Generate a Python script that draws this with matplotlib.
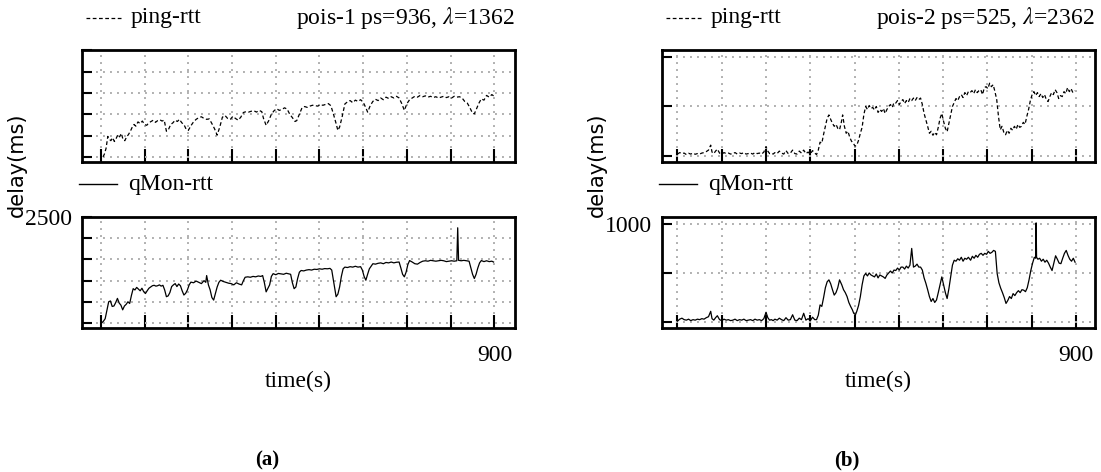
import matplotlib
matplotlib.use('Agg')
import matplotlib.pyplot as plt
from matplotlib.lines import Line2D

plt.rcParams['font.family'] = ['Liberation Serif', 'DejaVu Serif']
plt.rcParams['mathtext.fontset'] = 'stix'

# ---- data (time in s, delay in ms) ----
# (a) pois-1, ping-rtt
p1_t = [5, 8, 12, 16, 19, 23, 27, 31, 35, 39, 43, 47, 51, 55, 59, 63, 68, 72, 76, 80,
        85, 90, 95, 100, 105, 110, 115, 120, 125, 130, 135, 140, 145, 150, 155, 160, 165, 170, 175, 180,
        185, 190, 195, 200, 206, 212, 218, 224, 230, 236, 242, 248, 254, 260, 266, 272, 278, 284, 290, 296,
        302, 308, 314, 320, 326, 332, 338, 344, 350, 356, 362, 368, 372, 378, 384, 390, 396, 402, 408, 414,
        420, 426, 432, 438, 444, 448, 454, 460, 466, 472, 478, 484, 490, 496, 502, 508, 514, 520, 526, 532,
        538, 542, 546, 552, 558, 564, 570, 576, 582, 588, 594, 600, 606, 610, 616, 622, 628, 634, 640, 646,
        652, 658, 664, 670, 676, 682, 688, 694, 700, 706, 712, 718, 724, 730, 736, 742, 748, 754, 760, 766,
        772, 778, 784, 790, 796, 802, 808, 814, 820, 826, 832, 838, 844, 850, 854, 858, 864, 870, 876, 882,
        888, 894, 898]
p1_v = [0, 60, 200, 480, 420, 380, 450, 360, 430, 520, 470, 550, 400, 380, 470, 520, 610, 700, 760, 720,
        820, 780, 840, 760, 740, 800, 830, 860, 810, 850, 870, 840, 860, 600, 650, 760, 800, 860, 830, 880,
        800, 760, 650, 620, 730, 820, 880, 920, 940, 900, 880, 890, 780, 660, 510, 700, 930, 970, 900, 880,
        950, 900, 860, 930, 1040, 1060, 1050, 1070, 1080, 1050, 1090, 1060, 900, 740, 850, 1000, 1080, 1130, 1090, 1110,
        1150, 1120, 1000, 920, 830, 850, 1000, 1150, 1180, 1160, 1190, 1210, 1200, 1190, 1220, 1210, 1230, 1250, 1200, 1000,
        780, 620, 700, 950, 1240, 1290, 1320, 1270, 1330, 1300, 1340, 1280, 1150, 1050, 1200, 1300, 1350, 1320, 1380, 1340,
        1400, 1370, 1410, 1380, 1420, 1380, 1250, 1090, 1250, 1340, 1380, 1420, 1400, 1440, 1410, 1430, 1400, 1420, 1390, 1410,
        1380, 1400, 1420, 1390, 1410, 1380, 1420, 1400, 1410, 1380, 1300, 1260, 1150, 1020, 1010, 1100, 1250, 1360, 1330, 1440,
        1400, 1460, 1430]

# (a) pois-1, qMon-rtt
q1_t = [2, 6, 10, 14, 18, 22, 26, 30, 34, 38, 42, 46, 50, 54, 58, 62, 66, 70, 74, 78,
        82, 86, 90, 94, 98, 102, 106, 110, 114, 118, 122, 126, 130, 134, 138, 142, 146, 150, 154, 158,
        162, 166, 170, 174, 178, 182, 186, 190, 194, 198, 202, 206, 212, 218, 224, 230, 236, 240, 242, 246,
        250, 254, 258, 262, 266, 270, 274, 280, 286, 292, 298, 304, 310, 316, 322, 326, 330, 336, 342, 348,
        354, 360, 366, 370, 374, 378, 382, 386, 390, 394, 400, 406, 412, 418, 424, 430, 434, 438, 442, 446,
        450, 454, 458, 464, 470, 476, 482, 488, 494, 500, 506, 512, 518, 524, 528, 532, 536, 538, 542, 546,
        550, 554, 558, 564, 570, 576, 582, 588, 594, 598, 602, 606, 610, 614, 618, 622, 628, 634, 640, 646,
        652, 658, 664, 670, 676, 682, 686, 690, 694, 698, 702, 706, 712, 718, 724, 730, 736, 742, 748, 754,
        760, 766, 772, 778, 784, 790, 796, 802, 808, 814, 816, 818, 824, 830, 836, 842, 846, 850, 854, 858,
        862, 866, 870, 876, 882, 888, 894, 898]
q1_v = [0, 40, 100, 300, 500, 520, 390, 400, 480, 580, 470, 420, 310, 400, 440, 500, 460, 650, 810, 780,
        840, 800, 760, 820, 740, 695, 760, 820, 850, 880, 890, 870, 880, 900, 870, 890, 780, 620, 640, 720,
        860, 900, 930, 860, 920, 880, 760, 660, 700, 780, 900, 965, 950, 990, 960, 930, 1000, 960, 1120, 900,
        780, 600, 540, 700, 850, 960, 1010, 980, 960, 940, 930, 900, 950, 920, 900, 1000, 1080, 1090, 1080, 1100,
        1090, 1110, 1100, 1120, 950, 735, 820, 900, 1100, 1165, 1140, 1170, 1160, 1150, 1175, 1160, 1150, 950, 810, 850,
        1050, 1200, 1240, 1230, 1250, 1260, 1250, 1270, 1265, 1280, 1270, 1285, 1280, 1290, 1250, 1000, 750, 620, 680, 850,
        1100, 1280, 1320, 1310, 1330, 1320, 1340, 1320, 1330, 1250, 1100, 1010, 1150, 1280, 1340, 1400, 1390, 1410, 1420, 1400,
        1430, 1420, 1440, 1420, 1435, 1440, 1300, 1150, 1090, 1200, 1380, 1475, 1440, 1400, 1390, 1430, 1460, 1470, 1460, 1480,
        1470, 1460, 1470, 1480, 1470, 1450, 1460, 1470, 1460, 1470, 2250, 1480, 1470, 1480, 1470, 1460, 1300, 1150, 1050, 1150,
        1300, 1420, 1475, 1450, 1470, 1450, 1460, 1440]

# (b) pois-2, ping-rtt
p2_t = [0, 5, 10, 15, 20, 25, 30, 35, 40, 45, 50, 55, 60, 65, 70, 75, 78, 82, 86, 90,
        95, 100, 105, 110, 115, 120, 125, 130, 135, 140, 145, 150, 155, 160, 165, 170, 175, 180, 185, 190,
        195, 200, 204, 208, 212, 216, 220, 225, 230, 235, 240, 245, 250, 255, 260, 265, 270, 275, 280, 285,
        290, 295, 300, 305, 310, 314, 318, 322, 326, 330, 334, 338, 342, 346, 350, 354, 358, 362, 366, 370,
        373, 377, 381, 385, 389, 393, 397, 401, 405, 409, 413, 417, 421, 425, 429, 433, 437, 441, 445, 449,
        453, 457, 461, 465, 469, 473, 477, 481, 485, 489, 493, 497, 501, 505, 509, 513, 517, 521, 525, 529,
        533, 537, 541, 545, 549, 553, 557, 561, 565, 569, 573, 577, 581, 585, 589, 593, 597, 601, 605, 609,
        613, 617, 621, 625, 629, 633, 637, 641, 645, 649, 653, 657, 661, 665, 669, 673, 677, 681, 685, 689,
        693, 697, 701, 705, 709, 713, 717, 721, 725, 729, 733, 737, 741, 745, 749, 753, 757, 761, 765, 769,
        773, 777, 781, 785, 789, 793, 797, 801, 805, 809, 813, 817, 821, 825, 829, 833, 837, 841, 845, 849,
        853, 857, 861, 865, 869, 873, 877, 881, 885, 889, 893, 897]
p2_v = [20, 35, 25, 30, 15, 28, 20, 30, 18, 25, 20, 30, 35, 45, 60, 110, 40, 25, 50, 70,
        30, 20, 35, 25, 30, 20, 25, 35, 20, 30, 25, 35, 20, 25, 30, 20, 35, 25, 30, 20,
        40, 95, 50, 25, 30, 20, 35, 25, 50, 30, 20, 55, 25, 30, 60, 25, 20, 50, 30, 60,
        25, 40, 20, 55, 30, 15, 60, 140, 130, 220, 300, 380, 415, 370, 330, 300, 320, 280, 265, 340,
        415, 300, 230, 250, 190, 150, 130, 100, 110, 160, 230, 290, 420, 500, 470, 510, 480, 490, 465, 500,
        440, 470, 450, 480, 430, 470, 500, 520, 490, 540, 535, 560, 520, 550, 570, 530, 560, 540, 580, 560,
        585, 560, 590, 570, 585, 520, 430, 365, 300, 230, 250, 210, 240, 215, 290, 380, 430, 350, 280, 245,
        330, 420, 500, 540, 580, 560, 600, 620, 590, 640, 610, 650, 640, 660, 630, 670, 640, 660, 670, 620,
        690, 700, 680, 735, 700, 720, 650, 570, 400, 265, 300, 240, 215, 260, 230, 280, 260, 300, 270, 320,
        290, 300, 340, 320, 400, 470, 560, 620, 650, 610, 640, 600, 630, 590, 620, 570, 550, 600, 640, 620,
        670, 640, 580, 610, 600, 650, 630, 690, 650, 680, 640, 660]

# (b) pois-2, qMon-rtt
q2_t = [0, 5, 10, 15, 20, 25, 30, 35, 40, 45, 50, 55, 60, 65, 70, 75, 78, 82, 86, 90,
        95, 100, 105, 110, 115, 120, 125, 130, 135, 140, 145, 150, 155, 160, 165, 170, 175, 180, 185, 190,
        195, 200, 204, 208, 212, 216, 220, 225, 230, 235, 240, 245, 250, 255, 260, 265, 270, 275, 280, 285,
        290, 295, 300, 305, 310, 314, 318, 322, 326, 330, 334, 338, 342, 346, 350, 354, 358, 362, 366, 371,
        375, 379, 383, 387, 391, 395, 398, 402, 405, 409, 413, 417, 421, 425, 429, 433, 437, 441, 445, 449,
        453, 457, 461, 465, 469, 473, 477, 481, 485, 489, 493, 497, 501, 505, 509, 513, 517, 521, 525, 529,
        533, 537, 541, 545, 549, 553, 557, 561, 565, 569, 573, 577, 581, 585, 589, 593, 597, 601, 605, 609,
        613, 617, 621, 625, 629, 633, 637, 641, 645, 649, 653, 657, 662, 666, 670, 674, 678, 682, 686, 690,
        694, 698, 702, 706, 710, 714, 718, 722, 726, 730, 734, 738, 742, 746, 750, 754, 758, 762, 766, 770,
        774, 778, 782, 786, 790, 794, 798, 802, 806, 809, 810, 811, 814, 818, 822, 826, 830, 834, 838, 842,
        846, 850, 854, 858, 862, 866, 870, 874, 878, 882, 886, 890, 894, 898]
q2_v = [10, 30, 40, 25, 20, 30, 15, 25, 20, 30, 25, 35, 30, 45, 55, 110, 35, 20, 45, 65,
        25, 15, 30, 20, 25, 15, 20, 30, 15, 25, 20, 30, 15, 20, 25, 15, 30, 20, 25, 15,
        35, 100, 45, 20, 25, 15, 30, 20, 40, 25, 15, 45, 20, 25, 75, 20, 15, 40, 25, 90,
        20, 35, 15, 50, 25, 25, 70, 175, 160, 250, 350, 410, 430, 390, 330, 275, 300, 350, 430, 380,
        330, 300, 260, 200, 160, 125, 90, 75, 110, 170, 260, 380, 470, 495, 470, 500, 480, 470, 460, 490,
        450, 480, 470, 460, 445, 480, 500, 520, 500, 530, 525, 550, 530, 560, 560, 540, 570, 550, 580, 750,
        560, 570, 590, 560, 560, 530, 450, 395, 330, 260, 210, 240, 200, 225, 300, 380, 460, 380, 300, 240,
        340, 460, 580, 630, 620, 645, 630, 660, 620, 650, 640, 660, 630, 670, 650, 680, 660, 690, 700, 680,
        700, 690, 720, 700, 710, 730, 720, 495, 400, 345, 300, 250, 190, 220, 260, 240, 290, 270, 300, 320,
        300, 330, 325, 310, 350, 430, 525, 600, 660, 650, 1010, 660, 640, 650, 620, 640, 610, 630, 600, 560,
        525, 600, 675, 640, 600, 595, 650, 700, 730, 680, 640, 620, 650, 610]

W, H = 1101, 472


def fx(px):
    return px / W


def fy(py):
    return 1 - py / H


def panel_axes(x0, x1, y0, y1):
    return fig.add_axes([fx(x0), fy(y1), fx(x1) - fx(x0), fy(y0) - fy(y1)])


def style(ax, xlim, ylim, yticks, top_label=None, show_900=False):
    ax.set_xlim(xlim)
    ax.set_ylim(ylim)
    ax.set_xticks(range(0, 901, 100))
    ax.set_yticks(yticks)
    ax.set_xticklabels(['900' if (t == 900 and show_900) else '' for t in range(0, 901, 100)])
    ax.set_yticklabels([top_label if (top_label and t == yticks[-1]) else '' for t in yticks])
    ax.grid(True, color='#b0b0b0', ls=(0, (1, 2.6)), lw=1.4)
    ax.tick_params(axis='x', direction='in', length=9.5, width=1.5, pad=12, labelsize=17, top=False)
    ax.tick_params(axis='y', direction='in', length=7.5, width=1.5, pad=7, labelsize=17, right=False)
    for s in ax.spines.values():
        s.set_linewidth(2.0)


fig = plt.figure(figsize=(W / 100, H / 100), dpi=100)

panels = [
    # x0, x1, xlim, ylim, yticks, top label, ping data, qmon data, title, caption, caption x
    (82, 515, (-43, 947), (-120, 2505), [0, 500, 1000, 1500, 2000, 2500], '2500',
     (p1_t, p1_v), (q1_t, q1_v), 'pois-1 ps=936, $\\lambda$=1362', '(a)', 267),
    (662, 1095, (-35, 943), (-60, 1070), [0, 500, 1000], '1000',
     (p2_t, p2_v), (q2_t, q2_v), 'pois-2 ps=525, $\\lambda$=2362', '(b)', 847),
]

for (x0, x1, xlim, ylim, yticks, toplab, ping, qmon, title, cap, capx) in panels:
    ax_top = panel_axes(x0, x1, 50, 162)
    ax_top.plot(ping[0], ping[1], color='k', lw=0.9, ls=(0, (3, 2)))
    style(ax_top, xlim, ylim, yticks)

    ax_bot = panel_axes(x0, x1, 217, 328)
    ax_bot.plot(qmon[0], qmon[1], color='k', lw=0.9)
    style(ax_bot, xlim, ylim, yticks, top_label=toplab, show_900=True)

    # keys
    fig.add_artist(Line2D([fx(x0 + 4), fx(x0 + 39)], [fy(18), fy(18)], color='k', lw=0.9,
                          ls=(0, (3, 2)), transform=fig.transFigure))
    fig.text(fx(x0 + 49), fy(18), 'ping-rtt', fontsize=17, ha='left', va='center')
    fig.text(fx(x1), fy(18), title, fontsize=17, ha='right', va='center')
    fig.add_artist(Line2D([fx(x0 - 3), fx(x0 + 35)], [fy(184), fy(184)], color='k', lw=1.0,
                          transform=fig.transFigure))
    fig.text(fx(x0 + 46), fy(184), 'qMon-rtt', fontsize=17, ha='left', va='center')

    fig.text(fx(x0 - 65), fy(165), 'delay(ms)', fontsize=15, rotation=90,
             ha='center', va='center', family=['DejaVu Sans'])
    fig.text(fx((x0 + x1) / 2), fy(381), 'time(s)', fontsize=17, ha='center', va='center')
    fig.text(fx(capx), fy(460), cap, fontsize=15, fontweight='bold', ha='center', va='center')

fig.savefig('out.png', dpi=100)
